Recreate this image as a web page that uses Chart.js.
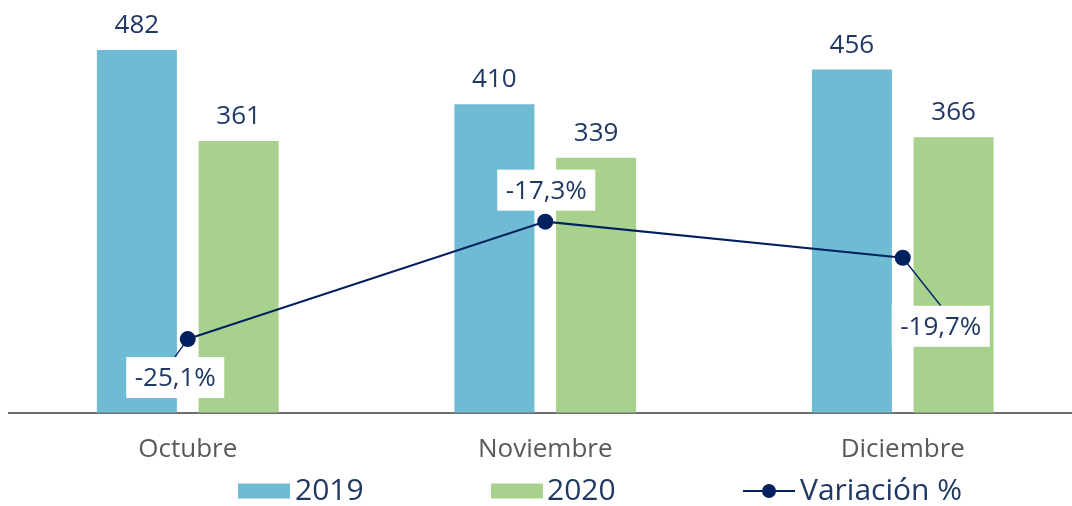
<!DOCTYPE html>
<html>
<head>
<meta charset="utf-8">
<script src="https://cdn.jsdelivr.net/npm/chart.js@4.4.0/dist/chart.umd.min.js"></script>
<style>
  html, body { margin: 0; padding: 0; background: #fff; overflow: hidden; }
  #wrap { width: 1072px; height: 506px; overflow: hidden; }
</style>
</head>
<body>
<div id="wrap"><canvas id="barLine" width="1090" height="506"></canvas></div>
<script>
// Data
const meses = ['Octubre', 'Noviembre', 'Diciembre'];
const valores2019 = [482, 410, 456];
const valores2020 = [361, 339, 366];
const variacion = [-25.1, -17.3, -19.7];

const azul = '#6fbbd3';
const verde = '#a9d18e';
const marino = '#002060';
const textoMarino = '#1f3864';
const fuente = '"Open Sans", "DejaVu Sans", sans-serif';

// Value labels over the bars + boxed labels for the % line
const etiquetas = {
  id: 'etiquetas',
  afterDatasetsDraw(chart, args, opts) {
    const ctx = chart.ctx;
    ctx.save();
    ctx.font = '26px ' + fuente;
    ctx.fillStyle = textoMarino;
    ctx.textAlign = 'center';
    ctx.textBaseline = 'alphabetic';
    [1, 2].forEach(di => {
      chart.getDatasetMeta(di).data.forEach((bar, i) => {
        ctx.fillText(chart.data.datasets[di].data[i], bar.x, bar.y - 17);
      });
    });

    // line labels: white box, offset from the point, optional leader line
    const meta = chart.getDatasetMeta(0);
    meta.data.forEach((pt, i) => {
      const off = opts.offsets[i];
      const cx = pt.x + off.dx, cy = pt.y + off.dy;
      const w = 98, h = 41;
      if (off.leader) {
        ctx.strokeStyle = marino;
        ctx.lineWidth = 1.3;
        ctx.beginPath();
        ctx.moveTo(pt.x, pt.y);
        ctx.lineTo(off.leader[0] + pt.x, off.leader[1] + pt.y);
        ctx.stroke();
      }
      ctx.fillStyle = '#ffffff';
      ctx.fillRect(cx - w / 2, cy - h / 2, w, h);
      ctx.fillStyle = textoMarino;
      ctx.textBaseline = 'middle';
      const txt = variacion[i].toFixed(1).replace('.', ',') + '%';
      ctx.fillText(txt, cx, cy + 1);
    });
    ctx.restore();
  },
  afterDraw(chart) {
    // legend along the bottom
    const ctx = chart.ctx;
    const y = 491;
    ctx.save();
    ctx.font = '30px ' + fuente;
    ctx.textBaseline = 'middle';
    ctx.textAlign = 'left';
    ctx.fillStyle = azul;
    ctx.fillRect(238, y - 7.5, 52, 15);
    ctx.fillStyle = textoMarino;
    ctx.fillText('2019', 295, y);
    ctx.fillStyle = verde;
    ctx.fillRect(491, y - 7.5, 52, 15);
    ctx.fillStyle = textoMarino;
    ctx.fillText('2020', 547, y);
    ctx.strokeStyle = marino;
    ctx.lineWidth = 2;
    ctx.beginPath();
    ctx.moveTo(743, y);
    ctx.lineTo(795, y);
    ctx.stroke();
    ctx.fillStyle = marino;
    ctx.beginPath();
    ctx.arc(769, y, 7, 0, Math.PI * 2);
    ctx.fill();
    ctx.fillStyle = textoMarino;
    ctx.fillText('Variación %', 800, y);
    ctx.restore();
  }
};

const barLine = document.getElementById('barLine');

const myChart = new Chart(barLine, {
  data: {
    labels: meses,
    datasets: [
      {
        type: 'line',
        label: 'Variación %',
        data: variacion,
        yAxisID: 'y1',
        borderColor: marino,
        backgroundColor: marino,
        borderWidth: 2,
        pointRadius: 8,
        pointBorderWidth: 0,
        tension: 0,
        order: 0
      },
      {
        type: 'bar',
        label: '2019',
        data: valores2019,
        yAxisID: 'y',
        backgroundColor: azul,
        categoryPercentage: 0.569,
        barPercentage: 0.787,
        order: 1
      },
      {
        type: 'bar',
        label: '2020',
        data: valores2020,
        yAxisID: 'y',
        backgroundColor: verde,
        categoryPercentage: 0.569,
        barPercentage: 0.787,
        order: 2
      }
    ]
  },
  options: {
    responsive: false,
    animation: false,
    layout: {
      padding: { top: 36.5, left: 9, right: 8.5, bottom: 28 }
    },
    scales: {
      x: {
        grid: { display: false },
        border: { color: '#6e6e6e', width: 2 },
        ticks: {
          color: '#595959',
          padding: 13,
          font: { family: fuente, size: 26 }
        }
      },
      y: { display: false, min: 0, max: 500 },
      y1: { display: false, min: -30, max: -5 }
    },
    plugins: {
      legend: { display: false },
      tooltip: { enabled: false },
      etiquetas: {
        offsets: [
          { dx: -12.5, dy: 38.5, leader: [-13, 18] },
          { dx: 1, dy: -31.5 },
          { dx: 38, dy: 68.5, leader: [38, 48] }
        ]
      }
    }
  },
  plugins: [etiquetas]
});
</script>
</body>
</html>
